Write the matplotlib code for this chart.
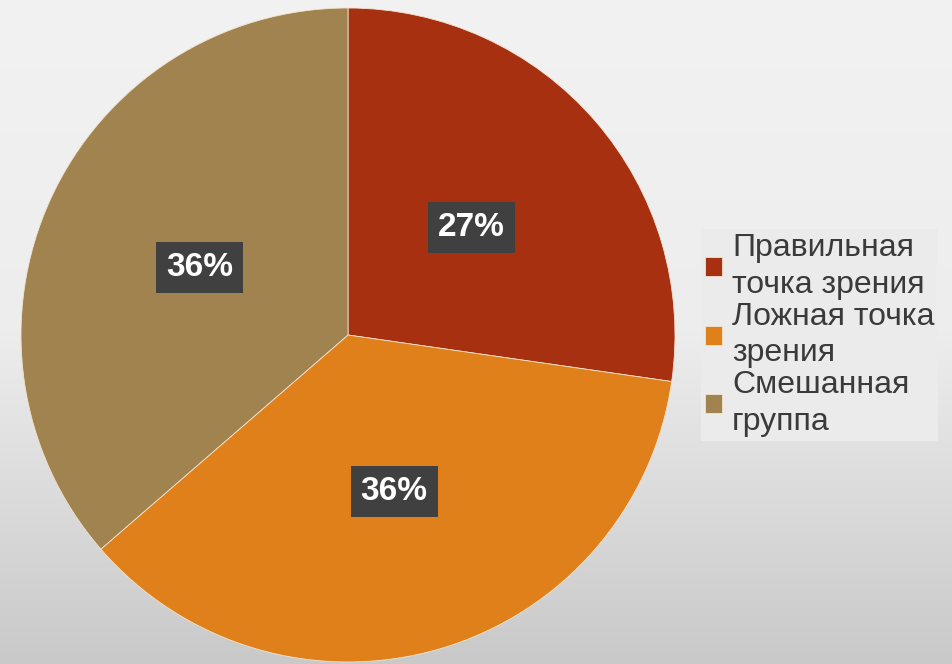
import numpy as np
import matplotlib
matplotlib.use("Agg")
import matplotlib.pyplot as plt
from matplotlib.colors import LinearSegmentedColormap

plt.rcParams['font.family'] = ['Liberation Sans', 'DejaVu Sans']

# данные диаграммы
labels = ["Правильная\nточка зрения", "Ложная точка\nзрения", "Смешанная\nгруппа"]
values = [3, 4, 4]
colors = ["#A6300F", "#E0801A", "#A0834F"]

W, H = 952, 664
fig = plt.figure(figsize=(W / 100, H / 100), dpi=100)

# фон с градиентом
bg = fig.add_axes([0, 0, 1, 1], zorder=0)
cmap = LinearSegmentedColormap.from_list("bg", ["#F2F2F2", "#EDEDED", "#C9C9C9"])
grad = np.linspace(0, 1, 256).reshape(-1, 1)
bg.imshow(grad, aspect="auto", cmap=cmap, extent=[0, 1, 0, 1])
bg.axis("off")

ax = fig.add_axes([0, 0, 1, 1], zorder=1)
ax.patch.set_alpha(0)

wedges, texts, autotexts = ax.pie(
    values, colors=colors, startangle=90, counterclock=False,
    center=(348, H - 335), radius=327, frame=True,
    autopct="%.0f%%", pctdistance=0.5,
    wedgeprops=dict(linewidth=0.6, edgecolor="#F3E3D0"),
    textprops=dict(color="white", fontsize=24, fontweight="bold"),
)
for t in autotexts:
    t.set_bbox(dict(boxstyle="square,pad=0.3", facecolor="#404040", edgecolor="none"))

ax.set_xlim(0, W)
ax.set_ylim(0, H)
ax.set_aspect("equal")
ax.axis("off")

leg = ax.legend(
    wedges, labels, loc="center left", bbox_to_anchor=(701 / W, 1 - 335 / H),
    bbox_transform=fig.transFigure, fontsize=23, frameon=True,
    facecolor="#EBEBEB", edgecolor="none", framealpha=1, fancybox=False,
    handlelength=0.55, handleheight=0.55, handletextpad=0.3,
    labelspacing=0.05, borderpad=0.12, borderaxespad=0,
)
for t in leg.get_texts():
    t.set_color("#3A3A3A")
    t.set_linespacing(1.3)

fig.savefig("out.png", dpi=100)
